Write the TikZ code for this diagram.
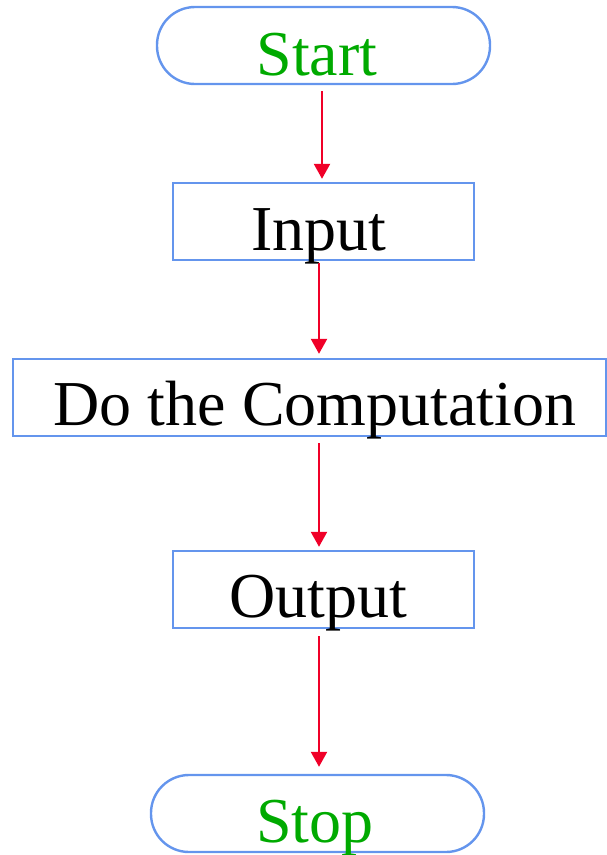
\documentclass[tikz,border=0pt]{standalone}
\usepackage{fontspec}
\setmainfont{Liberation Serif}
\usetikzlibrary{arrows.meta}
\definecolor{boxblue}{RGB}{100,149,237}
\definecolor{flowred}{RGB}{240,0,40}
\definecolor{termgreen}{RGB}{0,170,0}
\begin{document}
\begin{tikzpicture}[x=1pt,y=-1pt,
  box/.style={draw=boxblue,line width=2.4pt,minimum height=77pt,inner sep=0pt},
  term/.style={box,rounded corners=38pt},
  flow/.style={draw=flowred,line width=2.4pt,-{Triangle[width=16pt,length=15pt]}},
  txt/.style={anchor=base,font=\fontsize{64}{64}\selectfont,inner sep=0pt},
]
\useasboundingbox (0,0) rectangle (607,855);
% flowchart boxes
\node[term,minimum width=333pt] (start)  at (323.5,45.5)  {};
\node[box, minimum width=301pt] (input)  at (323.5,221.5) {};
\node[box, minimum width=593pt] (comp)   at (309.5,397.5) {};
\node[box, minimum width=301pt] (output) at (323.5,589.5) {};
\node[term,minimum width=333pt] (stop)   at (317.5,813.5) {};
% labels, placed on their baselines
\node[txt,text=termgreen] (startlbl)  at (317,75)    {Start};
\node[txt]                (inputlbl)  at (319,250)   {Input};
\node[txt]                (complbl)   at (315,425)   {Do the Computation};
\node[txt]                (outputlbl) at (318.5,617) {Output};
\node[txt,text=termgreen] (stoplbl)   at (315,842)   {Stop};
% connectors
\draw[flow] ([xshift=-1.5pt,yshift=-6pt]start.south) -- ([xshift=-1.5pt,yshift=3pt]input.north);
\draw[flow] ([xshift=-4.5pt,yshift=-2pt]input.south) -- ([xshift=9.5pt,yshift=4pt]comp.north);
\draw[flow] ([xshift=9.5pt,yshift=-6pt]comp.south)   -- ([xshift=-4.5pt,yshift=3pt]output.north);
\draw[flow] ([xshift=-4.5pt,yshift=-7pt]output.south) -- ([xshift=1.5pt,yshift=7pt]stop.north);
\end{tikzpicture}
\end{document}
